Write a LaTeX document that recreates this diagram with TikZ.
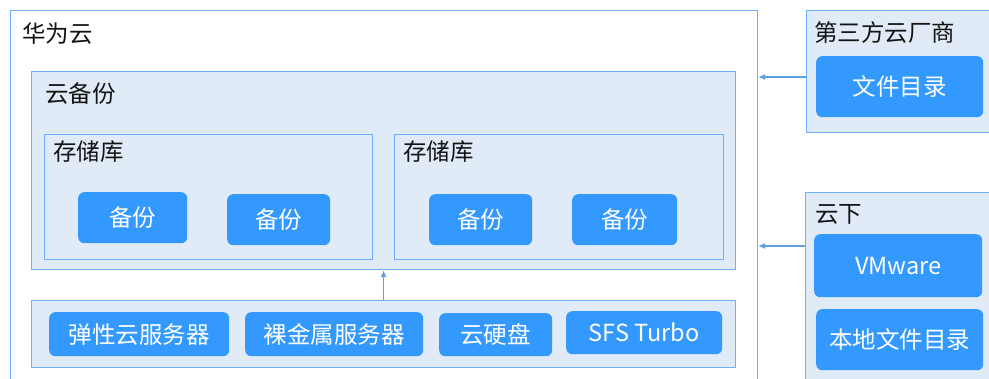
\documentclass[tikz,border=0pt]{standalone}
\usepackage{fontspec}
\setmainfont{Noto Sans CJK SC}
\usetikzlibrary{arrows.meta}
\definecolor{bdr}{RGB}{110,175,255}
\definecolor{cfill}{RGB}{225,235,248}
\definecolor{btn}{RGB}{51,153,255}
\definecolor{arrc}{RGB}{95,160,225}
\definecolor{ttl}{RGB}{20,20,20}
\begin{document}
\begin{tikzpicture}[x=1pt,y=-1pt,
  box/.style={draw=bdr,line width=1.2pt,fill=cfill,inner sep=0pt,anchor=north west},
  whitebox/.style={box,fill=white},
  btnbox/.style={fill=btn,rounded corners=6pt,inner sep=0pt,anchor=north west,text=white,font=\fontsize{23.5}{26}\selectfont},
  ttlnode/.style={anchor=west,inner sep=0pt,text=ttl,font=\fontsize{23.5}{26}\selectfont},
  arr/.style={draw=arrc,line width=1.1pt,-{Latex[length=7pt,width=6pt]}}
]
\useasboundingbox (0,0) rectangle (989,378);
\clip (0,0) rectangle (989,378);
% outer Huawei cloud box
\node[whitebox,minimum width=747pt,minimum height=390pt] (outer) at (10,10) {};
\node[ttlnode] (tout) at (22,34) {华为云};
% cloud backup
\node[box,minimum width=704pt,minimum height=198pt] (cbr) at (31,71) {};
\node[ttlnode] (tcbr) at (45,94) {云备份};
% vaults
\node[box,minimum width=328pt,minimum height=125pt] (v1) at (44,134) {};
\node[ttlnode] (tv1) at (53,152) {存储库};
\node[box,minimum width=329pt,minimum height=125pt] (v2) at (394,134) {};
\node[ttlnode] (tv2) at (403,152) {存储库};
% backups
\node[btnbox,minimum width=109pt,minimum height=51pt] (b1) at (78,192) {备份};
\node[btnbox,minimum width=103pt,minimum height=51pt] (b2) at (227,194) {备份};
\node[btnbox,minimum width=103pt,minimum height=51pt] (b3) at (429,194) {备份};
\node[btnbox,minimum width=105pt,minimum height=51pt] (b4) at (572,194) {备份};
% resources row
\node[box,minimum width=704pt,minimum height=67pt] (res) at (31,300) {};
\node[btnbox,minimum width=180pt,minimum height=44pt] (r1) at (49,312) {弹性云服务器};
\node[btnbox,minimum width=178pt,minimum height=44pt] (r2) at (245,312) {裸金属服务器};
\node[btnbox,minimum width=113pt,minimum height=43pt] (r3) at (439,313) {云硬盘};
\node[btnbox,minimum width=156pt,minimum height=43pt] (r4) at (566,311) {SFS Turbo};
% third party cloud
\node[box,minimum width=200pt,minimum height=122pt] (third) at (806,10) {};
\node[ttlnode] (tthird) at (814,33) {第三方云厂商};
\node[btnbox,minimum width=167pt,minimum height=61pt] (fdir) at (816,56) {文件目录};
% off-cloud
\node[box,minimum width=200pt,minimum height=200pt] (off) at (805,192) {};
\node[ttlnode] (toff) at (815,214) {云下};
\node[btnbox,minimum width=168pt,minimum height=63pt] (vmw) at (814,234) {VMware};
\node[btnbox,minimum width=167pt,minimum height=61pt] (ldir) at (816,309) {本地文件目录};
% arrows
\coordinate (a1) at (806,77);
\coordinate (a2) at (805,246);
\draw[arr] (a1) -- (a1 -| outer.east);
\draw[arr] (a2) -- (a2 -| outer.east);
\draw[arr] (res.north) -- (res.north |- cbr.south);
\end{tikzpicture}
\end{document}
